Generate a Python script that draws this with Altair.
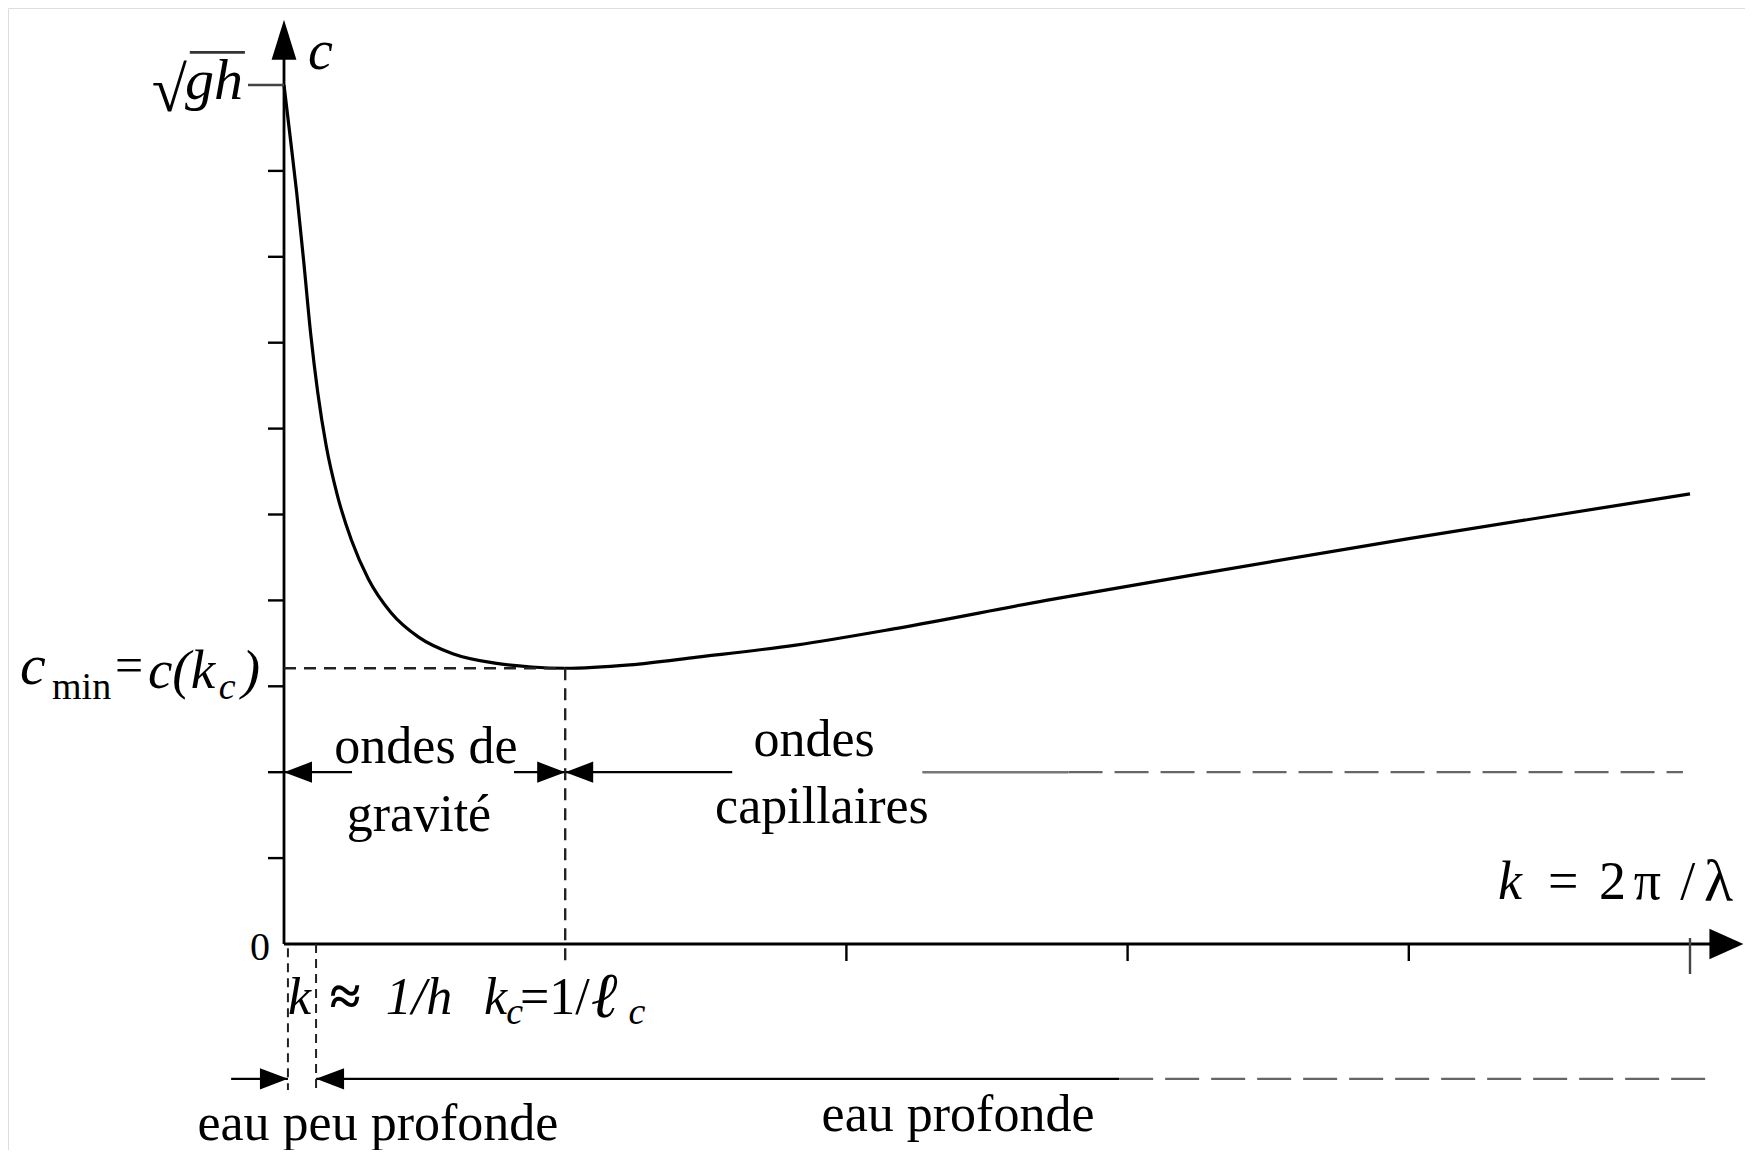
import altair as alt
import pandas as pd

# ---------------- data ----------------
# k in units of k_c (=1/l_c), c in units where sqrt(gh) = 10
curve_k = [0.0, 0.020, 0.045, 0.070, 0.095, 0.120, 0.150, 0.190, 0.240, 0.300, 0.380,
           0.480, 0.600, 0.750, 0.880, 1.000, 1.230, 1.470, 1.820, 2.180, 2.710,
           3.240, 4.000, 5.000]
curve_c = [10.0, 9.45, 8.75, 7.95, 7.10, 6.42, 5.80, 5.22, 4.70, 4.25, 3.86,
           3.57, 3.38, 3.27, 3.225, 3.21, 3.25, 3.34, 3.48, 3.675, 4.00,
           4.30, 4.72, 5.24]

c_min = 3.21          # c(k_c)
k_c = 1.0
k_h = 0.114           # k ~ 1/h
k_h0 = 0.014          # left edge of the shallow-water band
y_ticks = [1, 2, 3, 4, 5, 6, 7, 8, 9]
sqrt_gh = 10
x_ticks = [2, 3, 4]
x_tick_end = 5
k_tip = 5.19          # x-axis arrow tip
c_tip = 10.76         # y-axis arrow tip
row_waves = 2.0       # level of "ondes" arrows
row_depth = -1.57     # level of "eau" arrows

# ---------------- layout (pixels) ----------------
W, H = 1737, 1142
X0, KX = 276.0, 281.2
Y0, CY = 936.0, 85.9
xs = alt.Scale(domain=[-X0 / KX, (W - X0) / KX], nice=False, zero=False)
ys = alt.Scale(domain=[-(H - Y0) / CY, Y0 / CY], nice=False, zero=False)
FONT = "Liberation Serif"


def X(f):
    return alt.X(f, type="quantitative", scale=xs, axis=None)


def Y(f):
    return alt.Y(f, type="quantitative", scale=ys, axis=None)


def segs(rows, color="black", width=2.5, dash=None):
    df = pd.DataFrame(rows, columns=["k1", "c1", "k2", "c2"])
    kw = dict(color=color, strokeWidth=width)
    if dash:
        kw["strokeDash"] = dash
    return alt.Chart(df).mark_rule(**kw).encode(x=X("k1"), y=Y("c1"), x2="k2", y2="c2")


layers = []

# curve
curve = pd.DataFrame({"k": curve_k, "c": curve_c})
layers.append(alt.Chart(curve).mark_line(color="black", strokeWidth=3.2, interpolate="monotone")
              .encode(x=X("k"), y=Y("c")))

# axes
layers.append(segs([[0, 0, k_tip - 0.05, 0], [0, 0, 0, c_tip - 0.2]], width=2.8))

# arrows rows (solid parts)
layers.append(segs([[0, row_waves, 0.242, row_waves],
                    [0.818, row_waves, k_c, row_waves],
                    [k_c, row_waves, 1.594, row_waves],
                    [-0.188, row_depth, k_h0, row_depth],
                    [k_h, row_depth, 2.97, row_depth]], width=2.2))
layers.append(segs([[2.27, row_waves, 2.79, row_waves]], color="#777", width=2.6))
layers.append(segs([[2.79, row_waves, 4.975, row_waves],
                    [2.97, row_depth, 5.09, row_depth]], color="#666", width=2.2, dash=[34, 12]))

# dashed guides
layers.append(segs([[0, c_min, k_c, c_min], [k_c, c_min, k_c, -0.2]], color="#222", width=2.4, dash=[12, 8]))
layers.append(segs([[k_h0, -0.05, k_h0, -1.70], [k_h, 0, k_h, -1.70]], color="#222", width=2.0, dash=[9, 6]))

# y ticks
yt = pd.DataFrame({"k": [0] * len(y_ticks), "c": y_ticks})
layers.append(alt.Chart(yt).mark_rule(color="black", strokeWidth=2.4, x2Offset=-16)
              .encode(x=X("k"), x2="k", y=Y("c")))
layers.append(alt.Chart(pd.DataFrame({"k": [0], "c": [sqrt_gh]}))
              .mark_rule(color="#444", strokeWidth=2.6, x2Offset=-36)
              .encode(x=X("k"), x2="k", y=Y("c")))
# x ticks
xt = pd.DataFrame({"k": x_ticks, "c": [0] * len(x_ticks)})
layers.append(alt.Chart(xt).mark_rule(color="black", strokeWidth=2.4, y2Offset=17)
              .encode(x=X("k"), y=Y("c"), y2="c"))
layers.append(alt.Chart(pd.DataFrame({"k": [x_tick_end], "c": [0]}))
              .mark_rule(color="#444", strokeWidth=2.4, yOffset=-6, y2Offset=30)
              .encode(x=X("k"), y=Y("c"), y2="c"))


def heads(points, path, size):
    df = pd.DataFrame(points, columns=["k", "c"])
    return alt.Chart(df).mark_point(shape=path, size=size, filled=True, opacity=1,
                                    color="black", strokeWidth=0).encode(x=X("k"), y=Y("c"))


layers.append(heads([[0, c_tip]], "M0,0L-0.31,1L0.31,1Z", 6400))
layers.append(heads([[k_tip, 0]], "M0,0L-1,-0.45L-1,0.45Z", 4624))
layers.append(heads([[k_c, row_waves], [k_h0, row_depth]], "M0,0L-1,-0.38L-1,0.38Z", 3136))
layers.append(heads([[0, row_waves], [k_c, row_waves], [k_h, row_depth]], "M0,0L1,-0.38L1,0.38Z", 3136))


def texts(rows, size, italic=False, align="center", baseline="middle", bold=False):
    df = pd.DataFrame(rows, columns=["t", "k", "c"])
    kw = dict(font=FONT, fontSize=size, align=align, baseline=baseline, color="black")
    if italic:
        kw["fontStyle"] = "italic"
    if bold:
        kw["fontWeight"] = "bold"
    return alt.Chart(df).mark_text(**kw).encode(x=X("k"), y=Y("c"), text="t:N")


# plain labels
layers.append(texts([["ondes de", 0.505, 2.29],
                     ["gravité", 0.48, 1.50],
                     ["ondes", 1.885, 2.37],
                     ["capillaires", 1.913, 1.60],
                     ["eau peu profonde", 0.334, -2.09],
                     ["eau profonde", 2.397, -1.99]], 52))
layers.append(texts([["0", -0.085, -0.05]], 40))

# axis names
layers.append(texts([["c", 0.085, 10.38]], 56, italic=True, align="left"))
layers.append(texts([["k", 4.317, 0.71]], 54, italic=True, align="left"))
layers.append(texts([["=", 4.495, 0.71],
                     ["2", 4.676, 0.71],
                     ["π", 4.800, 0.71],
                     ["/", 4.965, 0.71]], 54, align="left"))
layers.append(texts([["λ", 5.050, 0.71]], 60, align="left"))

# sqrt(gh)
layers.append(texts([["gh", -0.352, 10.03]], 58, italic=True, align="left"))
layers.append(texts([["√", -0.345, 9.92]], 64, align="right"))
layers.append(segs([[-0.335, 10.38, -0.139, 10.38]], color="#333", width=2.6))

# c_min = c(k_c)
layers.append(texts([["c", -0.939, 3.22]], 58, italic=True, align="left"))
layers.append(texts([["min", -0.825, 2.98]], 38, align="left"))
layers.append(texts([["=", -0.601, 3.22]], 50, align="left"))
layers.append(texts([["c(k", -0.484, 3.18]], 55, italic=True, align="left"))
layers.append(texts([["c", -0.232, 2.98]], 38, italic=True, align="left"))
layers.append(texts([[")", -0.150, 3.18]], 55, italic=True, align="left"))

# k ~ 1/h   k_c = 1/l_c
layers.append(texts([["k", k_h0, -0.63]], 52, italic=True, align="left"))
layers.append(texts([["≈", 0.163, -0.63]], 56, bold=True, align="left"))
layers.append(texts([["1/h", 0.362, -0.63]], 52, italic=True, align="left"))
layers.append(texts([["k", 0.711, -0.63]], 52, italic=True, align="left"))
layers.append(texts([["c", 0.79, -0.80]], 38, italic=True, align="left"))
layers.append(texts([["=1/", 0.839, -0.63]], 52, align="left"))
layers.append(texts([["ℓ", 1.095, -0.63]], 64, italic=True, bold=True, align="left"))
layers.append(texts([["c", 1.225, -0.80]], 38, italic=True, align="left"))

chart = alt.layer(*layers).properties(
    width=W, height=H, padding=0,
    autosize=alt.AutoSizeParams(type="none"),
).configure_view(stroke=None).configure(background="white")

chart.save("out.html", embed_options={"renderer": "svg", "actions": False})
